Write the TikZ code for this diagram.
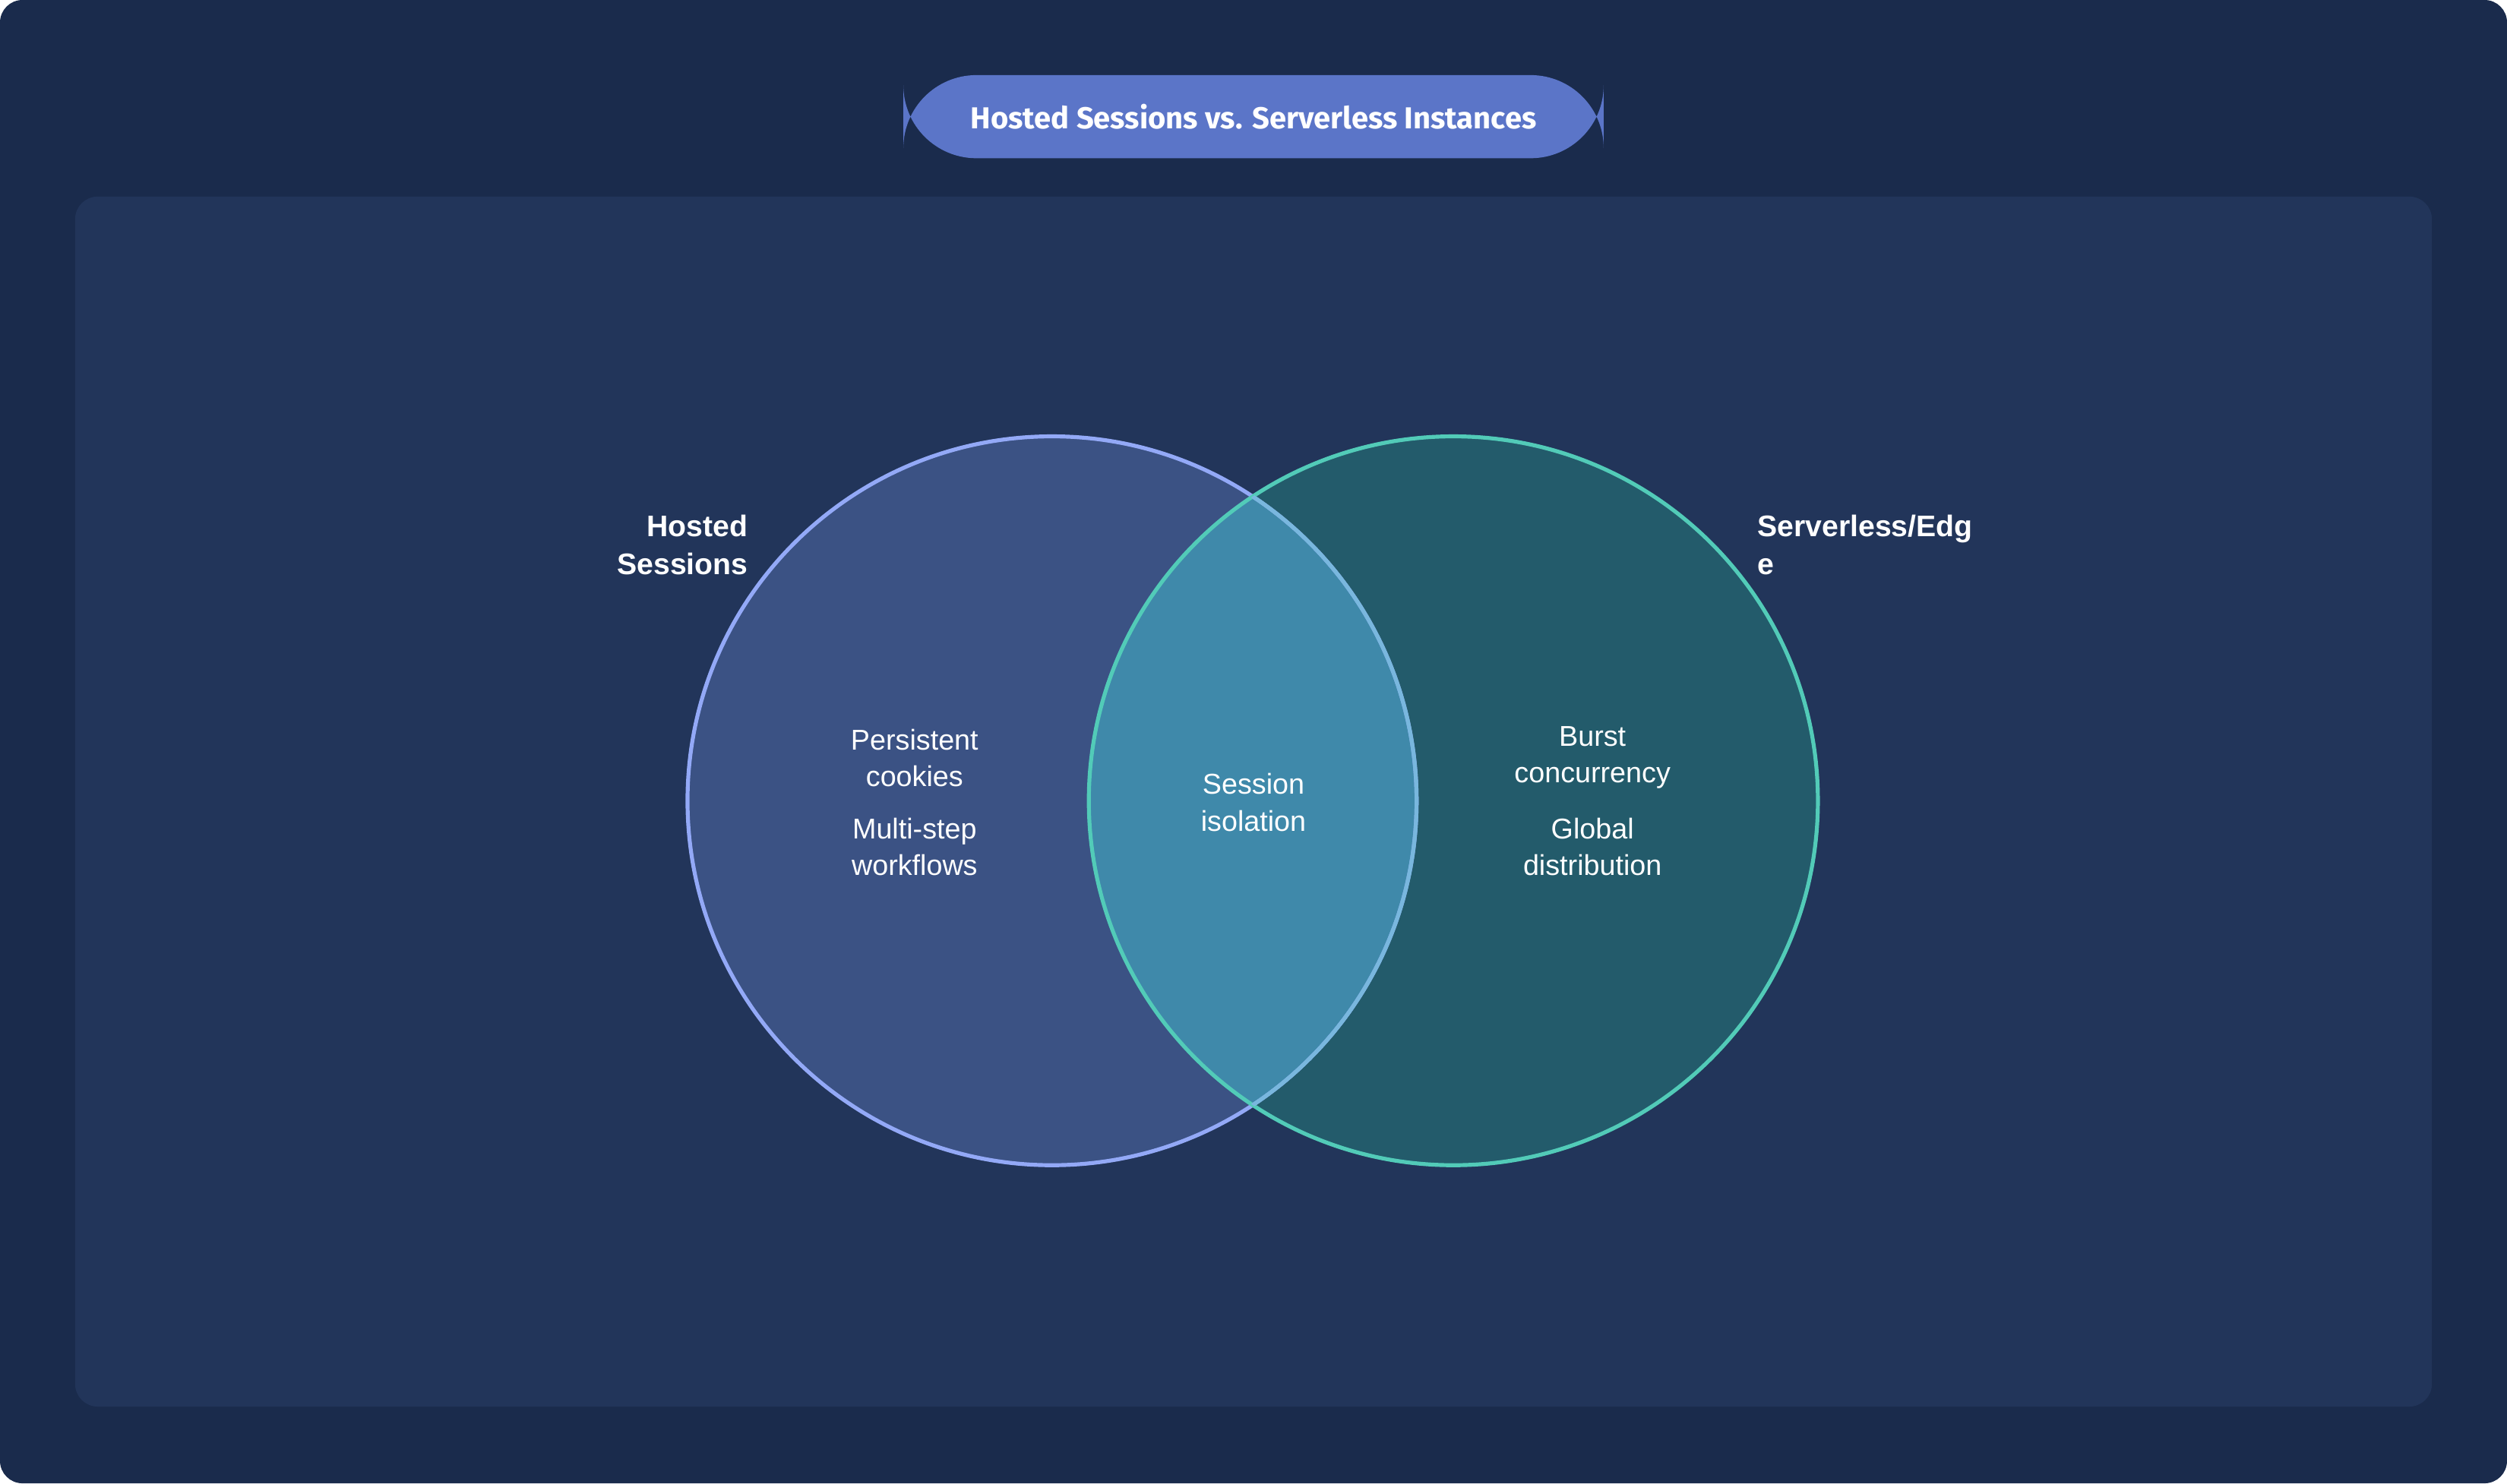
\documentclass[tikz,border=0pt]{standalone}
\usepackage{fontspec}
\setmainfont{Liberation Sans}
\newfontfamily\titlefont{Fira Sans}
\definecolor{PageBg}{HTML}{1A2B4C}
\definecolor{PanelBg}{HTML}{22355A}
\definecolor{PillFill}{HTML}{5B75C8}
\definecolor{HostedFill}{HTML}{3B5284}
\definecolor{HostedLine}{HTML}{93A9F7}
\definecolor{EdgeFill}{HTML}{235B6B}
\definecolor{EdgeLine}{HTML}{52CBB8}
\definecolor{BothFill}{HTML}{3F89AA}
\tikzset{
    set text/.style={text=white, align=center, font=\fontsize{10.2}{13}\selectfont},
    set label/.style={text=white, font=\bfseries\fontsize{10.6}{13.4}\selectfont}
}

\begin{document}
\begin{tikzpicture}[x=0.02cm, y=-0.02cm]

\coordinate (H) at (658, 501);
\coordinate (E) at (909, 501);

% Fondo y panel
\fill[PageBg, rounded corners=8] (0,0) rectangle (1568,928);
\fill[PanelBg, rounded corners=8] (47,123) rectangle (1521,880);

% Titulo
\fill[PillFill, rounded corners=26] (565,47) rectangle (1003,99);
\node[text=white, font=\titlefont\bfseries\fontsize{10.8}{13}\selectfont] (title) at (784,73) {Hosted Sessions vs. Serverless Instances};

% Colorear conjuntos
\fill[HostedFill] (H) circle (228);
\fill[EdgeFill] (E) circle (228);
\begin{scope}
    \clip (H) circle (228);
    \fill[BothFill] (E) circle (228);
\end{scope}

% Bordes, luego de colorear
\draw[HostedLine, line width=1.4pt] (H) circle (228);
\draw[EdgeLine, line width=1.4pt] (E) circle (228);
\begin{scope}
    \clip (E) circle (228);
    \draw[HostedLine!60!EdgeLine, line width=1.4pt] (H) circle (228);
\end{scope}

\node[set label, align=right, anchor=east] (hosted) at (474,341) {Hosted\\Sessions};
\node[set label, align=left, anchor=west] (edge) at (1093,341) {Serverless/Edg\\e};

\node[set text] (cookies) at (572,474) {Persistent\\cookies};
\node[set text] (workflows) at (572,530) {Multi-step\\workflows};
\node[set text] (isolation) at (784,502) {Session\\isolation};
\node[set text] (burst) at (996,474) {Burst\\concurrency};
\node[set text] (global) at (996,530) {Global\\distribution};

\end{tikzpicture}
\end{document}
